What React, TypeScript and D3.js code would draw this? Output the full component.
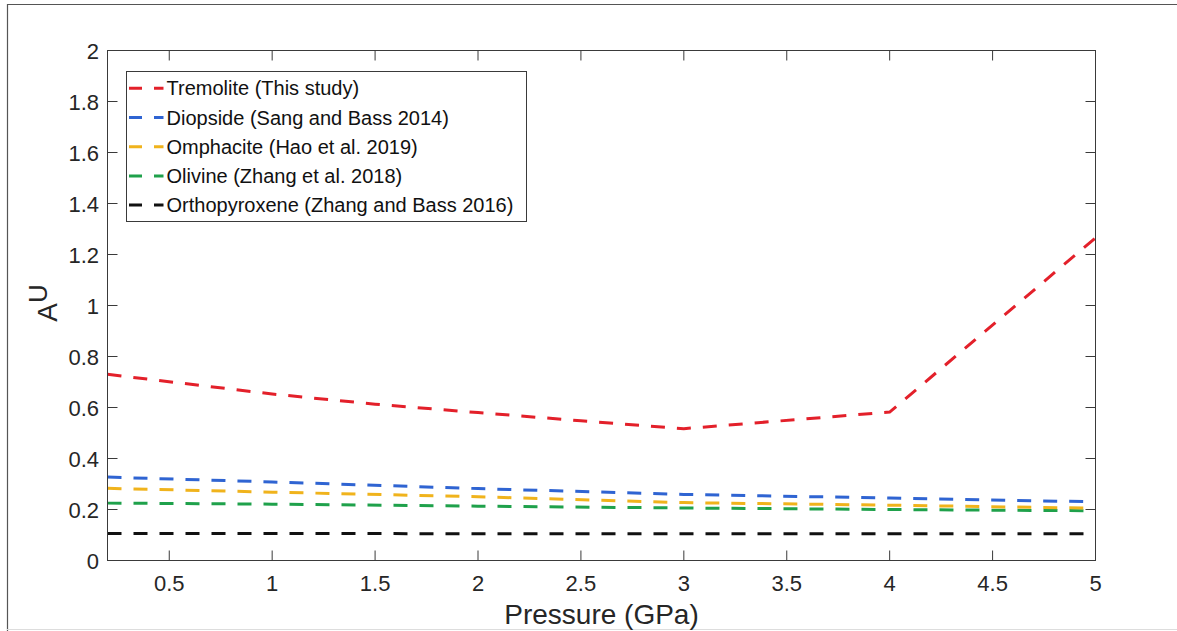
import React from "react";
import * as d3 from "d3";

const pressureTrem = [0.2, 1, 1.5, 2, 2.5, 3, 4, 5];
const tremolite = [0.73, 0.653, 0.613, 0.58, 0.548, 0.517, 0.582, 1.265];

const pressure = [0.2, 1, 2, 3, 4, 5];
const diopside = [0.327, 0.308, 0.282, 0.259, 0.245, 0.23];
const omphacite = [0.283, 0.268, 0.25, 0.227, 0.217, 0.205];
const olivine = [0.225, 0.221, 0.213, 0.206, 0.2, 0.195];
const orthopyroxene = [0.106, 0.106, 0.105, 0.105, 0.105, 0.105];

const seriesNames = [
  "Tremolite (This study)",
  "Diopside (Sang and Bass 2014)",
  "Omphacite (Hao et al. 2019)",
  "Olivine (Zhang et al. 2018)",
  "Orthopyroxene (Zhang and Bass 2016)",
];
const seriesColors = ["#e3202a", "#2f64d2", "#f0b31c", "#1fa14b", "#111111"];

const xTicks = [0.5, 1, 1.5, 2, 2.5, 3, 3.5, 4, 4.5, 5];
const yTicks = [0, 0.2, 0.4, 0.6, 0.8, 1, 1.2, 1.4, 1.6, 1.8, 2];

const W = 1177;
const H = 631;
const L = 107.5;
const R = 1095.5;
const T = 50.5;
const B = 560.5;
const FONT = "'Liberation Sans', Arial, Helvetica, sans-serif";

export default function App() {
  const x = d3.scaleLinear().domain([0.2, 5]).range([L, R]);
  const y = d3.scaleLinear().domain([0, 2]).range([B, T]);
  const line = d3
    .line<[number, number]>()
    .x((d) => x(d[0]))
    .y((d) => y(d[1]));

  const series: [number[], number[]][] = [
    [pressureTrem, tremolite],
    [pressure, diopside],
    [pressure, omphacite],
    [pressure, olivine],
    [pressure, orthopyroxene],
  ];

  const axisColor = "#3a3a3a";
  const tickLen = 10;

  return (
    <div style={{ position: "absolute", left: 0, top: 0 }}>
      <svg width={W} height={H} style={{ display: "block", background: "#fff" }} fontFamily={FONT}>
        {/* outer frame */}
        <line x1={7} x2={W} y1={4.5} y2={4.5} stroke="#555" strokeWidth={1.2} />
        <line x1={7.5} x2={7.5} y1={4} y2={H} stroke="#555" strokeWidth={1.2} />
        <line x1={7} x2={W} y1={629.5} y2={629.5} stroke="#ddd" strokeWidth={1} />

        {/* data lines */}
        <g fill="none" strokeWidth={3} strokeDasharray="14 12" strokeLinecap="butt" strokeLinejoin="miter">
          {series
            .map((s, i) => ({ s, i }))
            .reverse()
            .map(({ s, i }) => (
              <path
                key={i}
                d={line(s[0].map((p, k) => [p, s[1][k]] as [number, number])) || ""}
                stroke={seriesColors[i]}
              />
            ))}
        </g>

        {/* axes box */}
        <rect x={L} y={T} width={R - L} height={B - T} fill="none" stroke={axisColor} strokeWidth={1} />

        {/* x ticks */}
        {xTicks.map((t) => (
          <g key={"x" + t}>
            <line x1={x(t)} x2={x(t)} y1={B} y2={B - tickLen} stroke={axisColor} />
            <line x1={x(t)} x2={x(t)} y1={T} y2={T + tickLen} stroke={axisColor} />
            <text x={x(t)} y={591} textAnchor="middle" fontSize={22} fill="#262626">
              {String(t)}
            </text>
          </g>
        ))}

        {/* y ticks */}
        {yTicks.map((t) => (
          <g key={"y" + t}>
            <line x1={L} x2={L + tickLen} y1={y(t)} y2={y(t)} stroke={axisColor} />
            <line x1={R} x2={R - tickLen} y1={y(t)} y2={y(t)} stroke={axisColor} />
            <text x={99} y={y(t) + 8} textAnchor="end" fontSize={22} fill="#262626">
              {String(Math.round(t * 10) / 10)}
            </text>
          </g>
        ))}

        {/* axis labels */}
        <text x={(L + R) / 2} y={624} textAnchor="middle" fontSize={28} fill="#262626">
          Pressure (GPa)
        </text>
        <text transform="translate(57,303) rotate(-90)" textAnchor="middle" fontSize={28} fill="#262626">
          A
          <tspan fontSize={26} dy={-10}>
            U
          </tspan>
        </text>

        {/* legend */}
        <rect x={126.5} y={71.5} width={400} height={150} fill="#fff" stroke={axisColor} strokeWidth={1} />
        {seriesNames.map((name, i) => {
          const cy = 88.3 + i * 29.2;
          return (
            <g key={name}>
              <line
                x1={129}
                x2={163.5}
                y1={cy}
                y2={cy}
                stroke={seriesColors[i]}
                strokeWidth={3}
                strokeDasharray="13 12"
              />
              <text x={166.5} y={cy + 7} fontSize={20} fill="#111">
                {name}
              </text>
            </g>
          );
        })}
      </svg>
    </div>
  );
}
